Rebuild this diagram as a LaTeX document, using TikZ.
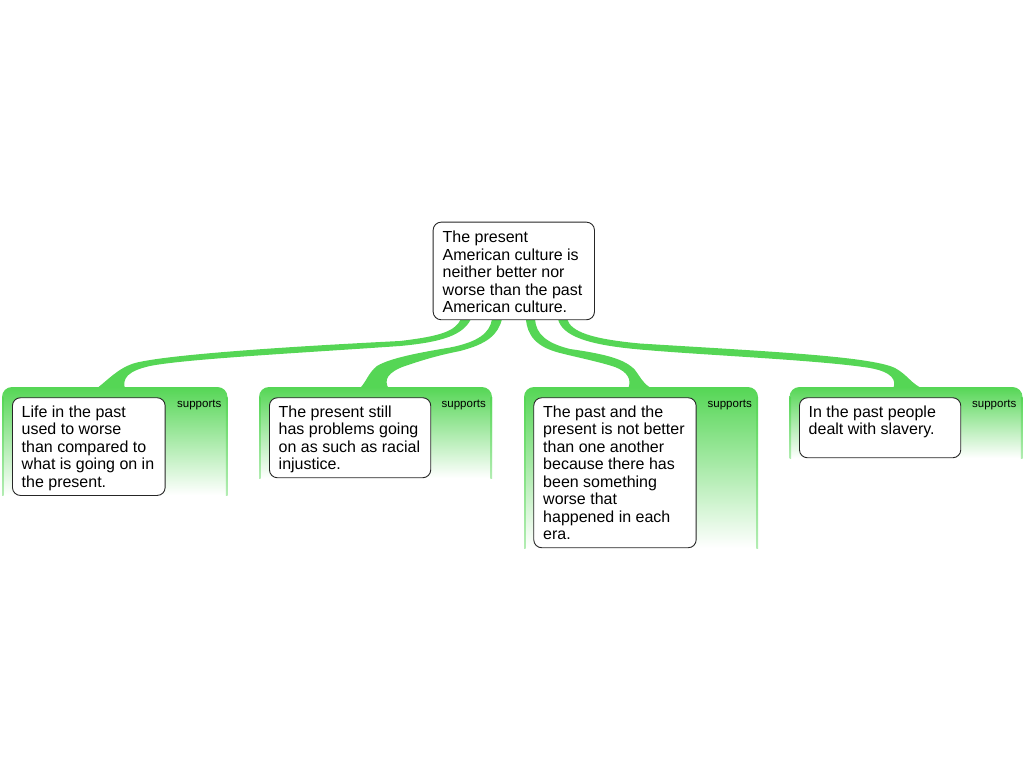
\documentclass[tikz,border=0pt]{standalone}
\usepackage{fontspec}
\setmainfont{Liberation Sans}
\definecolor{gr}{RGB}{85,214,85}
\begin{document}
\begin{tikzpicture}[x=1pt,y=-1pt,
  box/.style={draw=black!85, line width=0.9pt, rounded corners=8pt, fill=white, inner sep=0pt, anchor=north west},
  txt/.style={anchor=base west, inner sep=0pt, font=\fontsize{16}{17.5}\selectfont, text=black},
  sup/.style={anchor=base east, inner sep=0pt, font=\fontsize{11.5}{13}\selectfont, text=black},
  conn/.style={fill=gr, draw=none},
  panel/.style={top color=gr, bottom color=white, draw=none},
  edge/.style={top color=gr, bottom color=gr!45, draw=none}
]
\useasboundingbox (0,0) rectangle (1024,768);

% connectors (tapered branches)
\fill[conn] (461,319) .. controls (455,331) and (442,336) .. (400,341)
  .. controls (300,346) and (170,354) .. (135,363)
  .. controls (118,368) and (108,380) .. (96,389) -- (125,389)
  .. controls (122,378) and (128,371) .. (150,366)
  .. controls (185,359) and (300,353) .. (400,346)
  .. controls (443,342) and (463,335) .. (471,319) -- cycle;
\fill[conn] (492,319) .. controls (490,333) and (478,342) .. (450,347.5)
  .. controls (420,352.5) and (390,358) .. (377,366)
  .. controls (368,373) and (366,383) .. (359,389) -- (389,389)
  .. controls (383,380) and (388,372) .. (405,366)
  .. controls (420,361) and (435,356) .. (460,351)
  .. controls (487,344) and (498,335) .. (502,319) -- cycle;
\fill[conn] (535,319) .. controls (536,334) and (546,343) .. (570,349)
  .. controls (605,354) and (625,359) .. (635,370)
  .. controls (641,378) and (644,385) .. (653,389) -- (628,389)
  .. controls (632,380) and (628,372) .. (615,367)
  .. controls (600,362) and (580,358) .. (560,353)
  .. controls (536,347) and (527,335) .. (526,319) -- cycle;
\fill[conn] (567,319) .. controls (571,332) and (592,339) .. (640,343.5)
  .. controls (760,351) and (870,356) .. (895,368)
  .. controls (908,375) and (912,385) .. (924,389) -- (893,389)
  .. controls (897,380) and (892,372) .. (870,368)
  .. controls (820,360) and (700,355) .. (640,349.5)
  .. controls (588,345) and (562,336) .. (558,319) -- cycle;

% panels
\shade[panel] (2,495) -- (2,397) .. controls (2,391.5) and (6.5,387) .. (12,387) -- (217.5,387) .. controls (223,387) and (227.5,391.5) .. (227.5,397) -- (227.5,495) -- cycle;
\shade[edge] (2,397) rectangle (3.6,495);
\shade[edge] (225.9,397) rectangle (227.5,495);
\shade[panel] (259,478) -- (259,397) .. controls (259,391.5) and (263.5,387) .. (269,387) -- (482,387) .. controls (487.5,387) and (492,391.5) .. (492,397) -- (492,478) -- cycle;
\shade[edge] (259,397) rectangle (260.6,478);
\shade[edge] (490.4,397) rectangle (492,478);
\shade[panel] (524,548) -- (524,397) .. controls (524,391.5) and (528.5,387) .. (534,387) -- (748,387) .. controls (753.5,387) and (758,391.5) .. (758,397) -- (758,548) -- cycle;
\shade[edge] (524,397) rectangle (525.6,548);
\shade[edge] (756.4,397) rectangle (758,548);
\shade[panel] (789.5,458) -- (789.5,397) .. controls (789.5,391.5) and (794,387) .. (799.5,387) -- (1012.5,387) .. controls (1018,387) and (1022.5,391.5) .. (1022.5,397) -- (1022.5,458) -- cycle;
\shade[edge] (789.5,397) rectangle (791.1,458);
\shade[edge] (1020.9,397) rectangle (1022.5,458);

\node[sup] (s1) at (221.5,407.5) {supports};
\node[sup] (s2) at (486,407.5) {supports};
\node[sup] (s3) at (752,407.5) {supports};
\node[sup] (s4) at (1016.5,407.5) {supports};

% boxes
\node[box, minimum width=161.3pt, minimum height=97.6pt] (root) at (432.7,221.7) {};
\node[txt] (roott) at (442.5,242.5) {\parbox[t]{180pt}{\raggedright The present\\American culture is\\neither better nor\\worse than the past\\American culture.}};

\node[box, minimum width=152.7pt, minimum height=97.7pt] (b1) at (12,397.3) {};
\node[txt] (b1t) at (21.5,417.3) {\parbox[t]{180pt}{\raggedright Life in the past\\used to worse\\than compared to\\what is going on in\\the present.}};

\node[box, minimum width=161.3pt, minimum height=80pt] (b2) at (269,397.3) {};
\node[txt] (b2t) at (278.5,417.3) {\parbox[t]{180pt}{\raggedright The present still\\has problems going\\on as such as racial\\injustice.}};

\node[box, minimum width=162.4pt, minimum height=150pt] (b3) at (533.3,397.3) {};
\node[txt] (b3t) at (543,417.3) {\parbox[t]{180pt}{\raggedright The past and the\\present is not better\\than one another\\because there has\\been something\\worse that\\happened in each\\era.}};

\node[box, minimum width=161.3pt, minimum height=60pt] (b4) at (799,397.3) {};
\node[txt] (b4t) at (808.5,417.3) {\parbox[t]{180pt}{\raggedright In the past people\\dealt with slavery.}};
\end{tikzpicture}
\end{document}
